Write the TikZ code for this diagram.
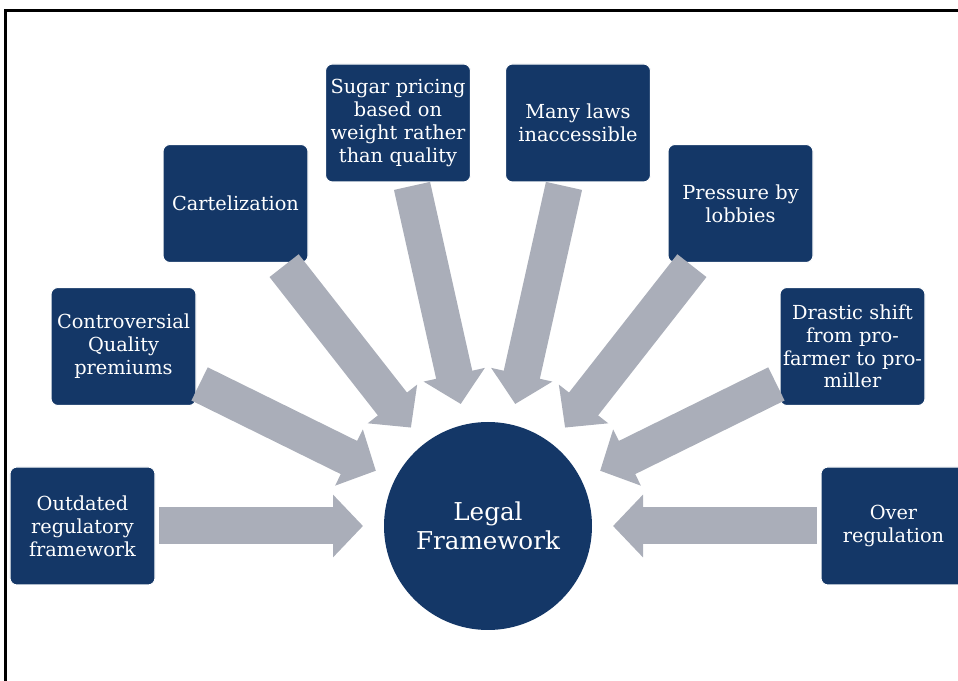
\documentclass[tikz,border=0pt]{standalone}
\usepackage{fontspec}
\setmainfont{DejaVu Serif}
\usetikzlibrary{arrows.meta}
\definecolor{navy}{RGB}{20,55,103}
\definecolor{steel}{RGB}{170,174,185}
\tikzset{
    issue/.style={draw=white, line width=0.6pt, fill=navy, rounded corners=0.14cm,
        minimum width=2.9cm, minimum height=2.36cm, text width=2.8cm, align=center,
        text=white, font=\fontsize{11}{13}\selectfont, inner sep=0pt, outer sep=0pt},
    core/.style={circle, fill=navy, minimum size=4.16cm, inner sep=0pt, outer sep=0pt,
        text=white, align=center, font=\fontsize{14}{16.5}\selectfont},
    feed/.style={draw=steel, line width=0.74cm, -{Triangle[width=1.22cm, length=0.6cm]},
        shorten <=0.08cm, shorten >=0.42cm}
}
\begin{document}
\begin{tikzpicture}
            %\draw[lightgray] (0, 0) grid (19, 13);
            \useasboundingbox (0, 0) rectangle (19.16, 13.62);
            \clip (0, 0) rectangle (19.16, 13.62);
            \draw[line width=2pt] (0.11, -1) -- (0.11, 13.41) -- (20, 13.41);
            \node[core] (legal) at (9.76, 3.1) {Legal\\Framework};
            \node[issue] (outdated) at (1.65, 3.1) {Outdated\\regulatory\\framework};
            \node[issue] (premium) at (2.47, 6.69) {Controversial\\Quality\\premiums};
            \node[issue] (cartel) at (4.71, 9.55) {Cartelization};
            \node[issue] (pricing) at (7.96, 11.16) {Sugar pricing\\based on\\weight rather\\than quality};
            \node[issue] (laws) at (11.56, 11.16) {Many laws\\inaccessible};
            \node[issue] (lobby) at (14.81, 9.55) {Pressure by\\lobbies};
            \node[issue] (shift) at (17.05, 6.69) {Drastic shift\\from pro-\\farmer to pro-\\miller};
            \node[issue] (over) at (17.87, 3.1) {Over\\regulation};
            \foreach \src in {outdated, premium, cartel, pricing, laws, lobby, shift, over}
                \draw[feed] (\src) -- (legal);
        \end{tikzpicture}
\end{document}
